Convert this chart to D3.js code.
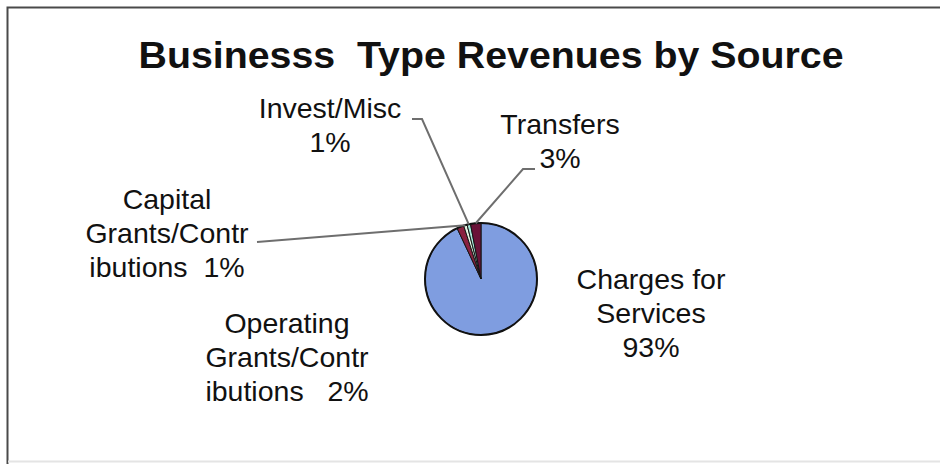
<!DOCTYPE html>
<html>
<head>
<meta charset="utf-8">
<script src="https://cdn.jsdelivr.net/npm/d3@7"></script>
<style>
  html, body { margin: 0; padding: 0; background: #fff; }
  svg { display: block; }
  text { font-family: "Liberation Sans", Arial, sans-serif; fill: #111; white-space: pre; }
</style>
</head>
<body>
<svg id="chart" width="940" height="466"></svg>
<script>
// Revenue sources for business-type activities (share of total, %)
const categories = [
  "Charges for Services",
  "Operating Grants/Contributions",
  "Capital Grants/Contributions",
  "Invest/Misc",
  "Transfers"
];
const shares = [93, 2, 1, 1, 3];
const sliceColors = ["#7f9de0", "#8a2140", "#e6f2e2", "#a6e6da", "#6a1238"];
// Category text as it wraps in each data label, and the gap before the percentage
const labelLines = [
  ["Charges for", "Services"],
  ["Operating", "Grants/Contr", "ibutions"],
  ["Capital", "Grants/Contr", "ibutions"],
  ["Invest/Misc"],
  ["Transfers"]
];
const percentJoin = ["\n", "   ", "  ", "\n", "\n"];
const titleText = "Businesss  Type Revenues by Source";

const svg = d3.select("#chart");

// Chart frame
svg.append("path")
  .attr("d", "M7.5,464 L7.5,7.5 L940,7.5")
  .attr("fill", "none").attr("stroke", "#4a4a4a").attr("stroke-width", 2);
svg.append("line")
  .attr("x1", 8).attr("x2", 940).attr("y1", 461.5).attr("y2", 461.5)
  .attr("stroke", "#e4e4e4").attr("stroke-width", 2);

// Title
svg.append("text")
  .attr("x", 491).attr("y", 68)
  .attr("text-anchor", "middle")
  .attr("font-size", 37).attr("font-weight", "bold")
  .attr("textLength", 705).attr("lengthAdjust", "spacingAndGlyphs")
  .text(titleText);

// Pie
const cx = 481, cy = 279, radius = 56;
const data = categories.map((c, i) => ({ name: c, value: shares[i], i }));
const pie = d3.pie().value(d => d.value).sort(null);
const arcs = pie(data);
const arc = d3.arc().innerRadius(0).outerRadius(radius);
const edge = d3.arc().innerRadius(radius).outerRadius(radius);

const g = svg.append("g").attr("transform", `translate(${cx},${cy})`);
g.selectAll("path.slice")
  .data(arcs)
  .join("path")
  .attr("class", "slice")
  .attr("d", arc)
  .attr("fill", d => sliceColors[d.data.i])
  .attr("stroke", "#151515")
  .attr("stroke-width", 1);
g.append("circle")
  .attr("r", radius).attr("fill", "none")
  .attr("stroke", "#111").attr("stroke-width", 2);

// Leader lines from label anchors to the slice edges
const leaders = [
  { i: 2, pts: [[257, 242]] },
  { i: 3, pts: [[412, 119], [422, 119]] },
  { i: 4, pts: [[535, 169], [523, 169]] }
];
const line = d3.line();
leaders.forEach(l => {
  const c = edge.centroid(arcs[l.i]);
  const pts = l.pts.concat([[cx + c[0], cy + c[1]]]);
  svg.append("path")
    .attr("d", line(pts))
    .attr("fill", "none")
    .attr("stroke", "#6e6e6e")
    .attr("stroke-width", 2);
});

// Data labels
const labelPos = [
  { x: 651, y: 289 },
  { x: 287, y: 333 },
  { x: 167, y: 209 },
  { x: 330, y: 118 },
  { x: 560, y: 134 }
];
const lineHeight = 34;
data.forEach((d, i) => {
  const lines = labelLines[i].slice();
  const pct = d.value + "%";
  if (percentJoin[i] === "\n") lines.push(pct);
  else lines[lines.length - 1] += percentJoin[i] + pct;
  const t = svg.append("text")
    .attr("text-anchor", "middle")
    .attr("font-size", 28.5)
    .attr("x", labelPos[i].x).attr("y", labelPos[i].y);
  lines.forEach((s, k) => {
    t.append("tspan")
      .attr("x", labelPos[i].x)
      .attr("y", labelPos[i].y + k * lineHeight)
      .text(s);
  });
});
</script>
</body>
</html>
